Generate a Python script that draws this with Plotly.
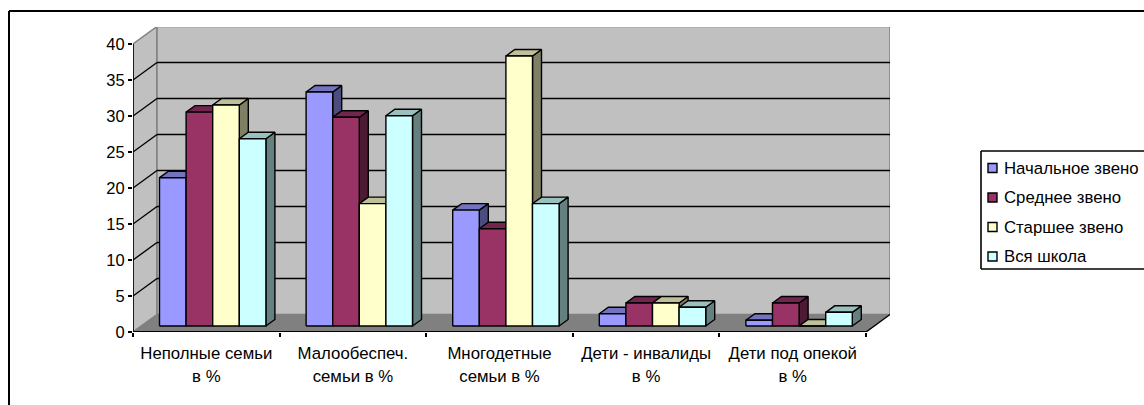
import plotly.graph_objects as go

W, H = 1144, 405
categories = ["Неполные семьи<br>в %", "Малообеспеч.<br>семьи в %", "Многодетные<br>семьи в %",
              "Дети - инвалиды<br>в %", "Дети под опекой<br>в %"]
series_names = ["Начальное звено", "Среднее звено", "Старшее звено", "Вся школа"]
nachalnoe = [20.6, 32.5, 16.1, 1.7, 0.8]
srednee = [29.7, 29.0, 13.5, 3.2, 3.2]
starshee = [30.7, 17.0, 37.5, 3.2, 0.0]
vsya = [26.0, 29.2, 17.0, 2.6, 1.9]
series_values = [nachalnoe, srednee, starshee, vsya]
y_ticks = [0, 5, 10, 15, 20, 25, 30, 35, 40]

front_colors = ["#9999FF", "#993366", "#FFFFCC", "#CCFFFF"]
top_colors = ["#7373BF", "#73264D", "#BFBF99", "#99BFBF"]
side_colors = ["#4C4C7F", "#4C1A33", "#7F7F66", "#667F7F"]

# pixel layout of the plot box and scales
L, R, T, B = 133, 890, 27, 332
PX_X = 146.6
PX_Y = 7.2
xmax = (R - L) / PX_X
ymax = (B - T) / PX_Y
DX = (R - 866) / PX_X   # wall depth in axis units
DY = 17.5 / PX_Y
BASE = 6 / PX_Y
BAR_W = 26.6 / PX_X
BAR_OFF = (159.5 - 133) / PX_X
SIDE_X = 9 / PX_X
SIDE_Y = 6.5 / PX_Y


def px(x):
    return (x - L) / (R - L)


def py(y):
    return (B - y) / (B - T)


shapes = []


def poly(xs, ys, fill, line, lw):
    path = "M " + " L ".join(f"{a},{b}" for a, b in zip(xs, ys)) + " Z"
    shapes.append(dict(type="path", path=path, xref="x", yref="y", layer="below",
                       fillcolor=fill, line=dict(color=line, width=lw)))


def seg(x0, y0, x1, y1, color, lw, ref="x", layer="below"):
    shapes.append(dict(type="line", x0=x0, y0=y0, x1=x1, y1=y1,
                       xref=ref, yref="y" if ref == "x" else "paper",
                       layer=layer, line=dict(color=color, width=lw)))


n = len(categories)
top = y_ticks[-1]
poly([0, DX, DX, 0], [0, DY, top + DY, top], "#C0C0C0", "#808080", 1.5)
poly([DX, n + DX, n + DX, DX], [DY, DY, top + DY, top + DY], "#C0C0C0", "#808080", 1.5)
poly([0, n, n + DX, DX], [0, 0, DY, DY], "#808080", "#808080", 1)
for v in y_ticks[1:-1]:
    seg(0, v, DX, v + DY, "#000000", 1.4)
    seg(DX, v + DY, n + DX, v + DY, "#000000", 1.4)
seg(n, 0, n + DX, DY, "#000000", 1.4)
seg(0, 0, 0, top, "#000000", 1.6)
seg(0, 0, n, 0, "#000000", 2)

fig = go.Figure()


def add_faces(xs, ys, color, name):
    fig.add_trace(go.Scatter(x=xs, y=ys, mode="lines", fill="toself", fillcolor=color,
                             line=dict(color="#000000", width=1.4), name=name,
                             showlegend=False, hoverinfo="skip", connectgaps=False))


for s, values in enumerate(series_values):
    fx, fy, tx, ty, sx, sy = [], [], [], [], [], []
    for c, v in enumerate(values):
        x0 = c + BAR_OFF + s * BAR_W
        x1 = x0 + BAR_W
        y0, y1 = BASE, BASE + v
        sx += [x1, x1 + SIDE_X, x1 + SIDE_X, x1, x1, None]
        sy += [y0, y0 + SIDE_Y, y1 + SIDE_Y, y1, y0, None]
        tx += [x0, x1, x1 + SIDE_X, x0 + SIDE_X, x0, None]
        ty += [y1, y1, y1 + SIDE_Y, y1 + SIDE_Y, y1, None]
        fx += [x0, x1, x1, x0, x0, None]
        fy += [y0, y0, y1, y1, y0, None]
    add_faces(sx, sy, side_colors[s], series_names[s] + " (бок)")
    add_faces(tx, ty, top_colors[s], series_names[s] + " (верх)")
    add_faces(fx, fy, front_colors[s], series_names[s])

FONT = "Liberation Sans, Arial, sans-serif"
annotations = []
# outer frame
seg(px(9), py(11), px(W), py(11), "#000000", 2, "paper", "above")
seg(px(9), py(11), px(9), py(H), "#000000", 2, "paper", "above")
# legend
seg(px(981), py(151), px(W), py(151), "#000000", 1.6, "paper", "above")
seg(px(981), py(269), px(W), py(269), "#000000", 1.6, "paper", "above")
seg(px(981), py(151), px(981), py(269), "#000000", 1.6, "paper", "above")
for i, name in enumerate(series_names):
    yc = 168 + i * 29.5
    shapes.append(dict(type="rect", xref="paper", yref="paper", x0=px(988), x1=px(997),
                       y0=py(yc - 4.5), y1=py(yc + 4.5), fillcolor=front_colors[i],
                       line=dict(color="#000000", width=1.4), layer="above"))
    annotations.append(dict(text=name, xref="paper", yref="paper", x=px(1002), y=py(yc),
                            xanchor="left", yanchor="middle", showarrow=False,
                            font=dict(family=FONT, size=16.8, color="#000000")))

tick_text = [f'<span style="font-size:16.8px">{c}</span>' for c in categories]
fig.update_layout(
    width=W, height=H, autosize=False,
    margin=dict(l=L, r=W - R, t=T, b=H - B, pad=0),
    paper_bgcolor="#FFFFFF", plot_bgcolor="rgba(0,0,0,0)",
    showlegend=False, shapes=shapes, annotations=annotations,
    font=dict(family=FONT, color="#000000"),
    xaxis=dict(range=[0, xmax], tickmode="array", tickvals=[i + 0.5 for i in range(n)],
               ticktext=tick_text, tickangle=0, ticks="outside", ticklen=4,
               tickcolor="rgba(0,0,0,0)", tickfont=dict(size=18, family=FONT),
               showgrid=False, zeroline=False, showline=False,
               minor=dict(tickmode="array", tickvals=list(range(n + 1)), ticks="outside",
                          ticklen=4, tickcolor="#000000", tickwidth=1.5, showgrid=False)),
    yaxis=dict(range=[0, ymax], tickmode="array", tickvals=y_ticks, ticks="outside",
               ticklen=4, tickwidth=1.5, tickcolor="#000000",
               tickfont=dict(size=16.5, family=FONT),
               showgrid=False, zeroline=False, showline=False),
)
fig.write_html("out.html", config=dict(displayModeBar=False),
               post_script="document.body.style.margin='0';document.documentElement.style.overflow='hidden';")
